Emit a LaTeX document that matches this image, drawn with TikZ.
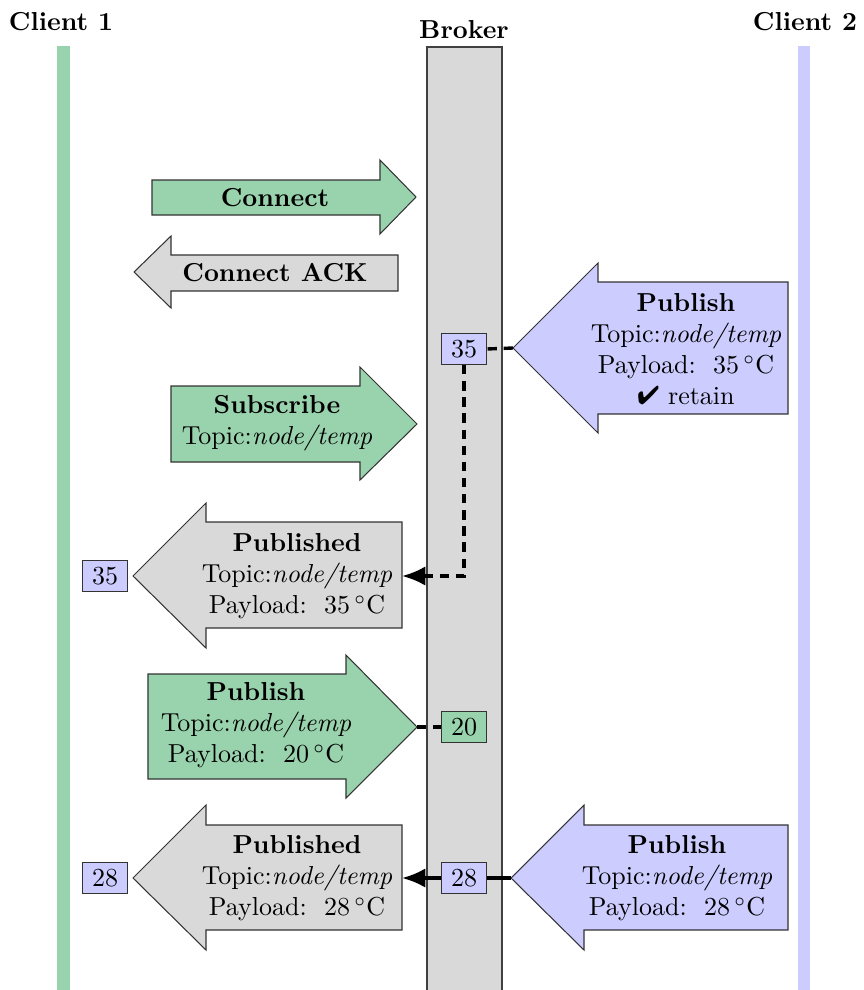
\documentclass[tikz,border=0pt]{standalone}
\usepackage{pifont}
\usetikzlibrary{arrows.meta}
\definecolor{cgreen}{RGB}{153,211,173}
\definecolor{cblue}{RGB}{204,204,255}
\definecolor{cgray}{RGB}{217,217,217}
\newcommand{\topicline}{Topic:\textit{node/temp}}
\newcommand{\payl}[1]{Payload:\ \ $#1\,^{\circ}\mathrm{C}$}
\begin{document}
\begin{tikzpicture}[x=0.3846pt,y=-0.3846pt,
  shapeline/.style={draw=black!80,line width=0.4pt},
  valbox/.style={shapeline,minimum width=17pt,minimum height=12pt,inner sep=1pt},
  txt/.style={align=center,inner sep=0pt},
  hdr/.style={font=\bfseries,inner sep=0pt},
  dashlink/.style={dash pattern=on 3.6pt off 2.6pt,line width=1.3pt},
  solidlink/.style={line width=1.3pt},
  tipend/.style={-{Latex[length=9pt,width=7.5pt]}}]
\useasboundingbox (0,0) rectangle (863,990);
% lifelines
\fill[cgreen] (57,46) rectangle (70,990);
\fill[cblue] (798,46) rectangle (810,990);
\fill[cgray] (427,47) rectangle (502,990);
\draw[draw=black!75,line width=0.5pt] (427,995) -- (427,47) -- (502,47) -- (502,995);
\node[hdr] (c1) at (61,22) {Client 1};
\node[hdr] (br) at (464,30) {Broker};
\node[hdr] (c2) at (805,22) {Client 2};
% Connect
\filldraw[shapeline,fill=cgreen] (152,180) -- (380,180) -- (380,160) -- (416,197) -- (380,234) -- (380,215) -- (152,215) -- cycle;
\node[hdr] (connect) at (275,198) {Connect};
% Connect ACK
\filldraw[shapeline,fill=cgray] (134,272) -- (171,236) -- (171,255) -- (398,255) -- (398,291) -- (171,291) -- (171,308) -- cycle;
\node[hdr] (connack) at (275,273) {Connect ACK};
% Publish 35 (client 2)
\filldraw[shapeline,fill=cblue] (513,348) -- (598,263) -- (598,282) -- (788,282) -- (788,414) -- (598,414) -- (598,433) -- cycle;
\coordinate (pub35tip) at (513,348);
\node[txt] (pub35) at (686,349) {\textbf{Publish}\\ \topicline\\ \payl{35}\\ \ding{52} retain};
\node[valbox,fill=cblue] (b35) at (464,349) {35};
% Subscribe
\filldraw[shapeline,fill=cgreen] (171,386) -- (360,386) -- (360,367) -- (417,424) -- (360,480) -- (360,462) -- (171,462) -- cycle;
\node[txt] (sub) at (277,423) {\textbf{Subscribe}\\ \topicline};
% Published 35
\filldraw[shapeline,fill=cgray] (133,576) -- (206,503) -- (206,522) -- (402,522) -- (402,628) -- (206,628) -- (206,648) -- cycle;
\coordinate (pubd35end) at (402,576);
\node[txt] (pubd35) at (297,576) {\textbf{Published}\\ \topicline\\ \payl{35}};
\node[valbox,fill=cblue] (c35) at (105,576) {35};
% Publish 20 (client 1)
\filldraw[shapeline,fill=cgreen] (148,674) -- (346,674) -- (346,655) -- (417,727) -- (346,798) -- (346,779) -- (148,779) -- cycle;
\coordinate (pub20tip) at (417,727);
\node[txt] (pub20) at (256,725) {\textbf{Publish}\\ \topicline\\ \payl{20}};
\node[valbox,fill=cgreen] (b20) at (464,727) {20};
% Published 28
\filldraw[shapeline,fill=cgray] (133,878) -- (206,805) -- (206,825) -- (402,825) -- (402,930) -- (206,930) -- (206,950) -- cycle;
\coordinate (pubd28end) at (402,878);
\node[txt] (pubd28) at (297,878) {\textbf{Published}\\ \topicline\\ \payl{28}};
\node[valbox,fill=cblue] (c28) at (105,878) {28};
% Publish 28 (client 2)
\filldraw[shapeline,fill=cblue] (511,878) -- (584,805) -- (584,825) -- (788,825) -- (788,930) -- (584,930) -- (584,950) -- cycle;
\coordinate (pub28tip) at (511,878);
\node[txt] (pub28) at (677,878) {\textbf{Publish}\\ \topicline\\ \payl{28}};
\node[valbox,fill=cblue] (b28) at (464,878) {28};
% links
\draw[dashlink] (pub35tip) -- (b35.east);
\draw[dashlink,tipend] (b35.south) |- (pubd35end);
\draw[dashlink] (pub20tip) -- (b20.west);
\draw[solidlink] (pub28tip) -- (b28.east);
\draw[solidlink,tipend] (b28.west) -- (pubd28end);
\end{tikzpicture}
\end{document}
